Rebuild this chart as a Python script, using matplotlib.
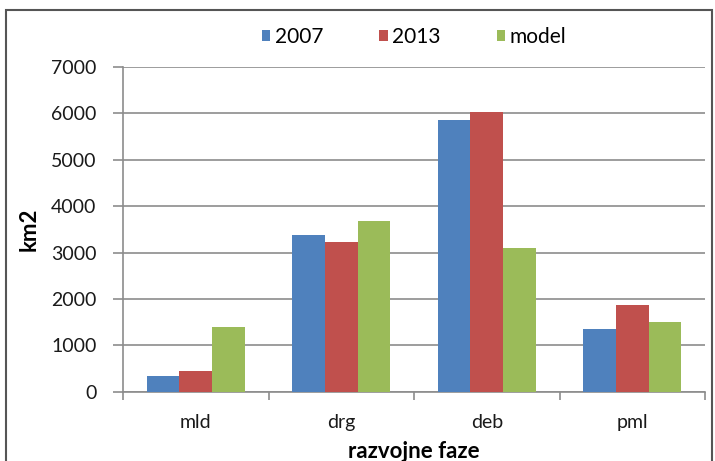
import matplotlib
matplotlib.use("Agg")
import matplotlib.pyplot as plt
import numpy as np
from matplotlib.patches import Rectangle

categories = ["mld", "drg", "deb", "pml"]
series_names = ["2007", "2013", "model"]
values_2007 = [340, 3380, 5860, 1360]
values_2013 = [450, 3230, 6020, 1870]
values_model = [1400, 3690, 3090, 1500]
y_ticks = [0, 1000, 2000, 3000, 4000, 5000, 6000, 7000]

colors = ["#4F81BD", "#C0504D", "#9BBB59"]
plt.rcParams["font.family"] = ["Lato", "DejaVu Sans"]

fig = plt.figure(figsize=(7.15, 4.61), dpi=100)
ax = fig.add_axes([123 / 715, 1 - 391.7 / 461, (705 - 123) / 715, (391.7 - 67) / 461])

x = np.arange(len(categories))
w = 0.225
for i, (vals, name) in enumerate(zip([values_2007, values_2013, values_model], series_names)):
    ax.bar(x + (i - 1) * w, vals, width=w, color=colors[i], label=name, zorder=3)

ax.set_xlim(-0.5, len(categories) - 0.5)
ax.set_ylim(0, 7000)
ax.set_yticks(y_ticks)
ax.set_yticklabels([str(t) for t in y_ticks], fontsize=14, color="#1a1a1a")
ax.yaxis.grid(True, color="#8c8c8c", linewidth=1.2, zorder=0)

ax.set_xticks(x)
ax.set_xticklabels(categories, fontsize=14, color="#1a1a1a")
ax.set_xticks(np.arange(len(categories) + 1) - 0.5, minor=True)
ax.tick_params(axis="x", which="major", length=0, pad=16)
ax.tick_params(axis="x", which="minor", length=6, color="#8c8c8c", width=1.2)
ax.tick_params(axis="y", length=7, color="#8c8c8c", width=1.2, pad=12)

for side in ["top", "right"]:
    ax.spines[side].set_visible(False)
for side in ["left", "bottom"]:
    ax.spines[side].set_color("#8c8c8c")
    ax.spines[side].set_linewidth(1.2)

ax.set_ylabel("km2", fontsize=16, fontweight="bold", labelpad=8)
ax.set_xlabel("razvojne faze", fontsize=16, fontweight="bold", labelpad=7)

fig.legend(loc="center", bbox_to_anchor=(414 / 715, 1 - 37 / 461), ncol=3, frameon=False,
           fontsize=15, handlelength=0.4, handleheight=0.4, handletextpad=0.2,
           columnspacing=2.7)

fig.patches.append(Rectangle((6 / 715, -0.05), (712 - 6) / 715, 1.05 - 10 / 461,
                             transform=fig.transFigure, fill=False,
                             edgecolor="#555555", linewidth=1.5))

fig.savefig("out.png", dpi=100)
